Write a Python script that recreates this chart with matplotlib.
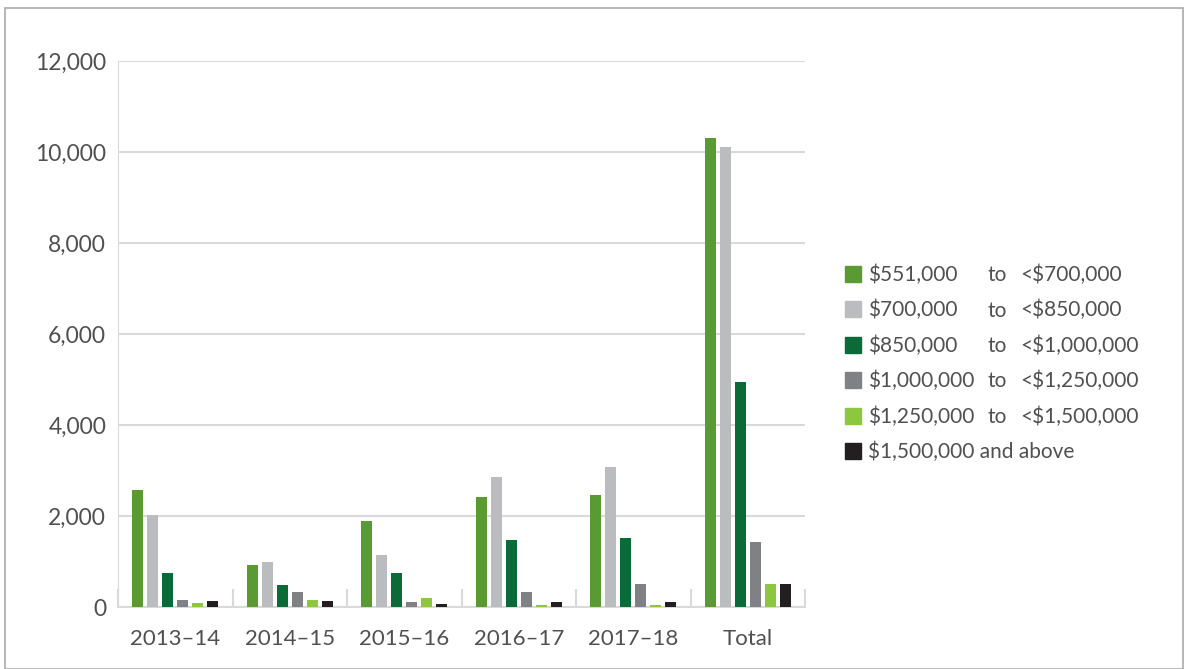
import numpy as np
import matplotlib
matplotlib.use("Agg")
import matplotlib.pyplot as plt
from matplotlib.patches import Rectangle

plt.rcParams["font.family"] = ["Lato", "DejaVu Sans"]

years = ["2013–14", "2014–15", "2015–16", "2016–17", "2017–18", "Total"]

band_from = ["\\$551,000", "\\$700,000", "\\$850,000", "\\$1,000,000", "\\$1,250,000", "\\$1,500,000 and above"]
band_to = ["<\\$700,000", "<\\$850,000", "<\\$1,000,000", "<\\$1,250,000", "<\\$1,500,000", ""]
colors = ["#5a9a32", "#bbbcc0", "#0b6b38", "#808184", "#8dc63f", "#231f20"]

b551 = [2580, 930, 1880, 2420, 2470, 10300]
b700 = [2030, 1000, 1150, 2860, 3070, 10100]
b850 = [740, 475, 740, 1480, 1525, 4940]
b1000 = [150, 320, 105, 320, 500, 1420]
b1250 = [80, 150, 190, 40, 40, 500]
b1500 = [125, 125, 60, 105, 105, 500]
series = [b551, b700, b850, b1000, b1250, b1500]

TXT = "#505050"
GRID = "#d9d9d9"
FS = 15

fig = plt.figure(figsize=(11.88, 6.69), dpi=100)
fig.patches.append(Rectangle((5 / 1188, 0), 1178 / 1188, 661 / 669, transform=fig.transFigure,
                             fill=False, edgecolor="#aaaaaa", lw=1.2))
ax = fig.add_axes([118 / 1188, 1 - 607 / 669, 687 / 1188, 546 / 669])

x = np.arange(len(years))
pitch, w = 0.131, 0.096
for i, (vals, c) in enumerate(zip(series, colors)):
    ax.bar(x + (i - 2.5) * pitch, vals, width=w, color=c, zorder=3)

ax.set_xlim(-0.5, len(years) - 0.5)
ax.set_ylim(0, 12000)
ax.set_yticks(range(0, 12001, 2000))
ax.set_yticklabels([f"{v:,}" for v in range(0, 12001, 2000)])
ax.yaxis.grid(True, color=GRID, lw=1.5, zorder=0)
ax.set_xticks(x)
ax.set_xticklabels(years)
ax.set_xticks(np.arange(-0.5, len(years)), minor=True)
ax.tick_params(axis="x", which="major", length=0, pad=16, labelsize=FS + 1, labelcolor=TXT)
ax.tick_params(axis="x", which="minor", length=13, width=1.5, color=GRID, direction="in")
ax.tick_params(axis="y", length=0, pad=8.5, labelsize=FS + 1.5, labelcolor=TXT)
for s in ["top", "right"]:
    ax.spines[s].set_visible(False)
ax.spines["left"].set_color(GRID)
ax.spines["bottom"].set_color(GRID)
ax.spines["bottom"].set_linewidth(1.5)

handles = [Rectangle((0, 0), 1, 1, color=c) for c in colors]
leg = fig.legend(handles, band_from, loc="upper left", bbox_to_anchor=(826 / 1188, 1 - 246 / 669),
                 frameon=False, fontsize=FS, handlelength=0.8, handleheight=0.8,
                 handletextpad=0.3, labelspacing=0.72, labelcolor=TXT)

# the "to" and upper-bound columns, set on the legend rows' baselines
fig.canvas.draw()
for t, lab in zip(leg.get_texts(), band_to):
    if not lab:
        continue
    _, yb = t.get_transform().transform(t.get_position())
    yb /= fig.bbox.height
    fig.text(987 / 1188, yb, "to", fontsize=FS, color=TXT, va="baseline")
    fig.text(1020 / 1188, yb, lab, fontsize=FS, color=TXT, va="baseline")

fig.savefig("out.png", dpi=100)
